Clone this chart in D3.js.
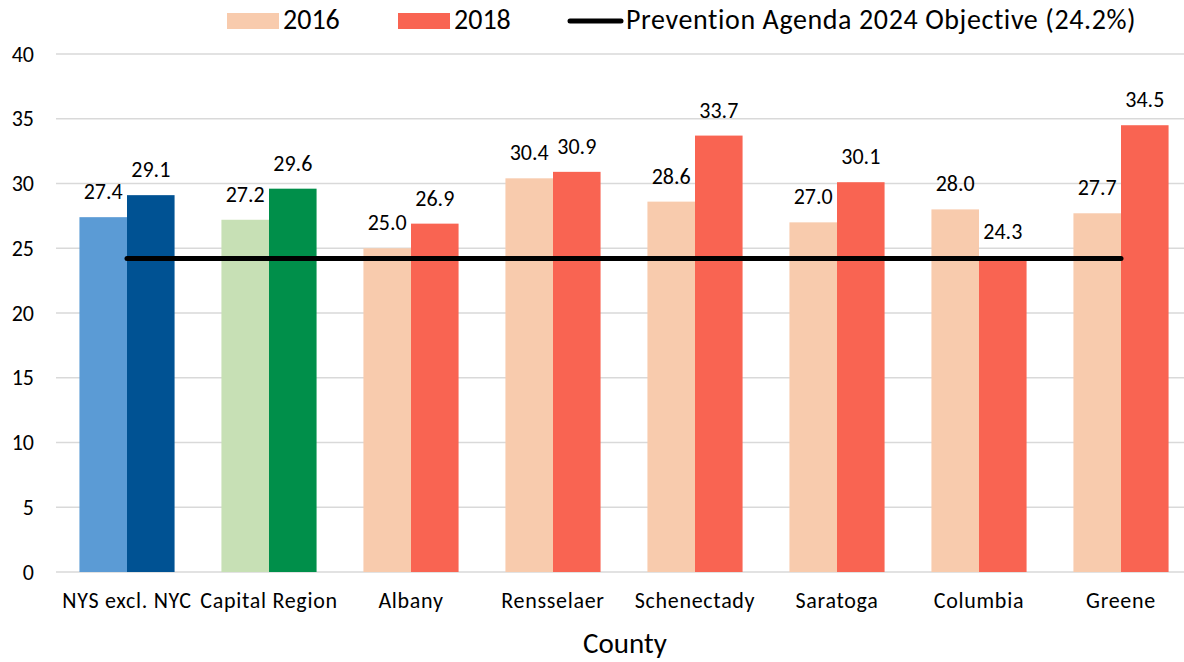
<!DOCTYPE html>
<html>
<head>
<meta charset="utf-8">
<script src="https://cdn.jsdelivr.net/npm/d3@7"></script>
<style>
  body { margin: 0; background: #fff; }
  svg { display: block; font-family: Carlito, Calibri, Lato, sans-serif; }
</style>
</head>
<body>
<div id="chart"></div>
<script>
// Data
const counties = ["NYS excl. NYC", "Capital Region", "Albany", "Rensselaer", "Schenectady", "Saratoga", "Columbia", "Greene"];
const years = ["2016", "2018"];
const values2016 = [27.4, 27.2, 25.0, 30.4, 28.6, 27.0, 28.0, 27.7];
const values2018 = [29.1, 29.6, 26.9, 30.9, 33.7, 30.1, 24.3, 34.5];
const objective = 24.2;
const yTicks = [0, 5, 10, 15, 20, 25, 30, 35, 40];

// colours per group: [2016, 2018]
const palette = {
  "NYS excl. NYC": ["#5B9BD5", "#005293"],
  "Capital Region": ["#C7E0B5", "#008F4A"],
  default: ["#F8CBAD", "#F96452"]
};

const W = 1184, H = 662;
const m = { left: 56, right: -8, top: 54, bottom: 90 };

const svg = d3.select("#chart").append("svg")
  .attr("width", W).attr("height", H);

const x = d3.scaleBand().domain(counties)
  .range([m.left, W - m.right]).paddingInner(0.33).paddingOuter(0.165);
const xi = d3.scaleBand().domain(years).range([0, x.bandwidth()]);
const y = d3.scaleLinear().domain([0, 40]).range([H - m.bottom, m.top]);

// gridlines
svg.append("g").selectAll("line").data(yTicks).join("line")
  .attr("x1", m.left).attr("x2", W)
  .attr("y1", d => y(d)).attr("y2", d => y(d))
  .attr("stroke", "#d9d9d9").attr("stroke-width", 1.5);

// y tick labels
svg.append("g").selectAll("text").data(yTicks).join("text")
  .attr("x", 34).attr("y", d => y(d)).attr("dy", "0.35em")
  .attr("text-anchor", "end").attr("font-size", 22).attr("fill", "#000")
  .text(d => d);

// bars
const rows = counties.map((c, i) => ({ county: c, vals: [values2016[i], values2018[i]] }));
const groups = svg.append("g").selectAll("g").data(rows).join("g")
  .attr("transform", d => `translate(${x(d.county)},0)`);

groups.selectAll("rect").data(d => years.map((yr, j) => ({ county: d.county, yr, v: d.vals[j], j })))
  .join("rect")
  .attr("x", d => xi(d.yr)).attr("width", xi.bandwidth())
  .attr("y", d => y(d.v)).attr("height", d => y(0) - y(d.v))
  .attr("fill", d => (palette[d.county] || palette.default)[d.j]);

// objective line
svg.append("line")
  .attr("x1", x(counties[0]) + x.bandwidth() / 2)
  .attr("x2", x(counties[counties.length - 1]) + x.bandwidth() / 2)
  .attr("y1", y(objective)).attr("y2", y(objective))
  .attr("stroke", "#000").attr("stroke-width", 5).attr("stroke-linecap", "round");

// value labels
groups.selectAll("text").data(d => years.map((yr, j) => ({ yr, v: d.vals[j] })))
  .join("text")
  .attr("x", d => xi(d.yr) + xi.bandwidth() / 2)
  .attr("y", d => y(d.v) - 18)
  .attr("text-anchor", "middle").attr("font-size", 22).attr("fill", "#000")
  .text(d => d.v.toFixed(1));

// category labels
svg.append("g").selectAll("text").data(counties).join("text")
  .attr("x", d => x(d) + x.bandwidth() / 2).attr("y", y(0) + 36)
  .attr("text-anchor", "middle").attr("font-size", 22).attr("letter-spacing", 0.7)
  .attr("fill", "#000")
  .text(d => d);

// axis title
svg.append("text")
  .attr("x", 625).attr("y", 653)
  .attr("text-anchor", "middle").attr("font-size", 29).attr("fill", "#000")
  .text("County");

// legend
const lg = svg.append("g");
const legendItems = [
  { label: "2016", color: palette.default[0], sx: 227, tx: 283 },
  { label: "2018", color: palette.default[1], sx: 398, tx: 454 }
];
legendItems.forEach(d => {
  lg.append("rect").attr("x", d.sx).attr("y", 13).attr("width", 52).attr("height", 16).attr("fill", d.color);
  lg.append("text").attr("x", d.tx).attr("y", 29)
    .attr("font-size", 28).attr("fill", "#000").text(d.label);
});
lg.append("line").attr("x1", 570).attr("x2", 621).attr("y1", 21).attr("y2", 21)
  .attr("stroke", "#000").attr("stroke-width", 5).attr("stroke-linecap", "round");
lg.append("text").attr("x", 626).attr("y", 29)
  .attr("font-size", 28).attr("letter-spacing", 0.6).attr("fill", "#000")
  .text("Prevention Agenda 2024 Objective (24.2%)");
</script>
</body>
</html>
